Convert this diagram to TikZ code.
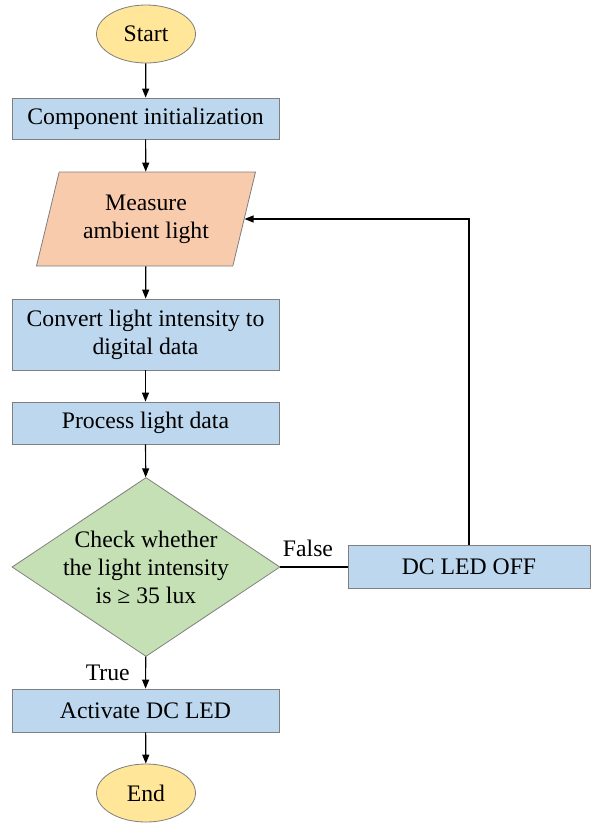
\documentclass[tikz,border=0pt]{standalone}
\usepackage{fontspec}
\setmainfont{Liberation Serif}
\usetikzlibrary{shapes.geometric,arrows.meta}

\definecolor{boxblue}{HTML}{BDD7EE}
\definecolor{ioorange}{HTML}{F8CBAD}
\definecolor{testgreen}{HTML}{C5E0B4}
\definecolor{endyellow}{HTML}{FFE699}
\definecolor{rimgray}{HTML}{7F7F7F}

\begin{document}
\begin{tikzpicture}[
  x=1pt,y=-1pt,
  every node/.style={align=center,font=\fontsize{23.7}{28}\selectfont},
  terminal/.style={draw=rimgray,thick,ellipse,fill=endyellow,minimum width=99,minimum height=58,inner sep=0pt},
  block/.style={draw=rimgray,thick,fill=boxblue,minimum width=267,inner sep=0pt},
  inout/.style={draw=rimgray,thick,fill=ioorange,trapezium,trapezium left angle=65,trapezium right angle=115,
    trapezium stretches body,minimum width=219,minimum height=94,inner sep=0pt},
  decision/.style={draw=rimgray,thick,diamond,fill=testgreen,minimum width=268,minimum height=179,inner sep=0pt},
  to/.style={-{Triangle[length=9pt,width=7pt]},line width=1.2pt},
  link/.style={line width=1.2pt}]

  \useasboundingbox (0,0) rectangle (602,823);

  % Position the nodes at their centres
  \node[terminal] (Start) at (146,34) {Start};
  \node[block,minimum height=41] (Init) at (145.5,118.5) {Component initialization};
  \node[inout] (Measure) at (146,219) {Measure\\ambient light};
  \node[block,minimum height=71] (Convert) at (145.5,334.5) {Convert light intensity to\\digital data};
  \node[block,minimum height=42] (Process) at (145.5,423) {Process light data};
  \node[decision] (Check) at (146,567) {};
  \node (CheckText) at (Check) {Check whether\\the light intensity\\is ≥ 35 lux};
  \node[block,minimum width=242,minimum height=43] (LedOff) at (469,567) {DC LED OFF};
  \node[block,minimum height=43] (Activate) at (145.5,710.5) {Activate DC LED};
  \node[terminal] (End) at (146,793) {End};

  % Draw the arrows between the nodes and label them.
  \draw[to] (Start) -- (Init);
  \draw[to] (Init) -- (Measure);
  \draw[to] (Measure) -- (Convert);
  \draw[to] (Convert) -- (Process);
  \draw[to] (Process) -- (Check);
  \draw[link] (Check.east) -- node[midway,above,xshift=-6pt,yshift=6pt] {False} (LedOff.west);
  \draw[to] (Check) -- node[midway,left,xshift=-12pt] {True} (Activate);
  \draw[to] (Activate) -- (End);
  \draw[to] (LedOff.north) |- (Measure.east);
\end{tikzpicture}
\end{document}
